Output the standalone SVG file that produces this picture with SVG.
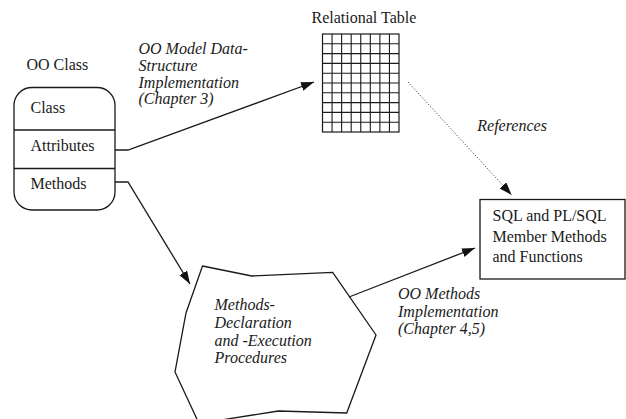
<svg xmlns="http://www.w3.org/2000/svg" width="626" height="419" viewBox="0 0 626 419">
<defs>
<style>
text{font-family:"Liberation Serif","Times New Roman",serif;font-size:16px;fill:#1a1a1a}
.it{font-style:italic}
.sh{fill:#fff;stroke:#1a1a1a;stroke-width:1.3}
.ln{fill:none;stroke:#1a1a1a;stroke-width:1.3}
.dot{fill:none;stroke:#333;stroke-width:0.9;stroke-dasharray:1.2 1.8}
.grid{stroke:#1a1a1a;stroke-width:1.1}
</style>
<marker id="ah" markerUnits="userSpaceOnUse" markerWidth="14" markerHeight="10" refX="13" refY="4.5" orient="auto">
<path d="M0,0 L13,4.5 L0,9 z" fill="#111"/>
</marker>
</defs>
<rect width="626" height="419" fill="#fff"/>

<g id="oo-class">
<text x="26.5" y="70">OO Class</text>
<rect class="sh" x="14" y="87.5" width="101" height="122.5" rx="18" ry="18"/>
<line class="ln" x1="14" y1="130" x2="115" y2="130"/>
<line class="ln" x1="14" y1="168.5" x2="115" y2="168.5"/>
<text x="30.5" y="112.5">Class</text>
<text x="30.5" y="150.5">Attributes</text>
<text x="30.5" y="188.5">Methods</text>
</g>

<g id="relational-table">
<text x="311.5" y="22.5">Relational Table</text>
<rect x="322.5" y="34" width="76.5" height="98" fill="#fff" stroke="#1a1a1a" stroke-width="1.2"/>
<g class="grid">
<line x1="332.06" y1="34" x2="332.06" y2="132"/>
<line x1="341.63" y1="34" x2="341.63" y2="132"/>
<line x1="351.19" y1="34" x2="351.19" y2="132"/>
<line x1="360.75" y1="34" x2="360.75" y2="132"/>
<line x1="370.31" y1="34" x2="370.31" y2="132"/>
<line x1="379.88" y1="34" x2="379.88" y2="132"/>
<line x1="389.44" y1="34" x2="389.44" y2="132"/>
<line x1="322.5" y1="43.8" x2="399" y2="43.8"/>
<line x1="322.5" y1="53.6" x2="399" y2="53.6"/>
<line x1="322.5" y1="63.4" x2="399" y2="63.4"/>
<line x1="322.5" y1="73.2" x2="399" y2="73.2"/>
<line x1="322.5" y1="83" x2="399" y2="83"/>
<line x1="322.5" y1="92.8" x2="399" y2="92.8"/>
<line x1="322.5" y1="102.6" x2="399" y2="102.6"/>
<line x1="322.5" y1="112.4" x2="399" y2="112.4"/>
<line x1="322.5" y1="122.2" x2="399" y2="122.2"/>
</g>
</g>

<g id="sql-methods">
<rect class="sh" x="480" y="199.5" width="145" height="79.5"/>
<text x="492.5" y="220.5">SQL and PL/SQL</text>
<text x="492.5" y="241.5">Member Methods</text>
<text x="492.5" y="261.5">and Functions</text>
</g>

<g id="methods-procedures">
<polygon class="sh" points="202.5,266 251.7,276 332.7,272.3 376,335 346.7,413 278.3,411 199,423.5 175,372 186,313"/>
<text class="it" x="214.5" y="310">Methods-</text>
<text class="it" x="214.5" y="327.7">Declaration</text>
<text class="it" x="214.5" y="345.5">and -Execution</text>
<text class="it" x="214.5" y="363.3">Procedures</text>
</g>

<g id="connectors">
<polyline class="ln" points="115,150 128,150 314,82" marker-end="url(#ah)"/>
<polyline class="ln" points="115,182 128,182 190,284" marker-end="url(#ah)"/>
<line class="ln" x1="349" y1="297" x2="475" y2="248" marker-end="url(#ah)"/>
<line class="dot" x1="408" y1="82" x2="511.7" y2="195" marker-end="url(#ah)"/>
<text class="it" x="138.5" y="54">OO Model Data-</text>
<text class="it" x="138.5" y="70.7">Structure</text>
<text class="it" x="138.5" y="87.5">Implementation</text>
<text class="it" x="138.5" y="104.2">(Chapter 3)</text>
<text class="it" x="477.3" y="131">References</text>
<text class="it" x="398" y="299">OO Methods</text>
<text class="it" x="398" y="316.7">Implementation</text>
<text class="it" x="398" y="334.3">(Chapter 4,5)</text>
</g>
</svg>
